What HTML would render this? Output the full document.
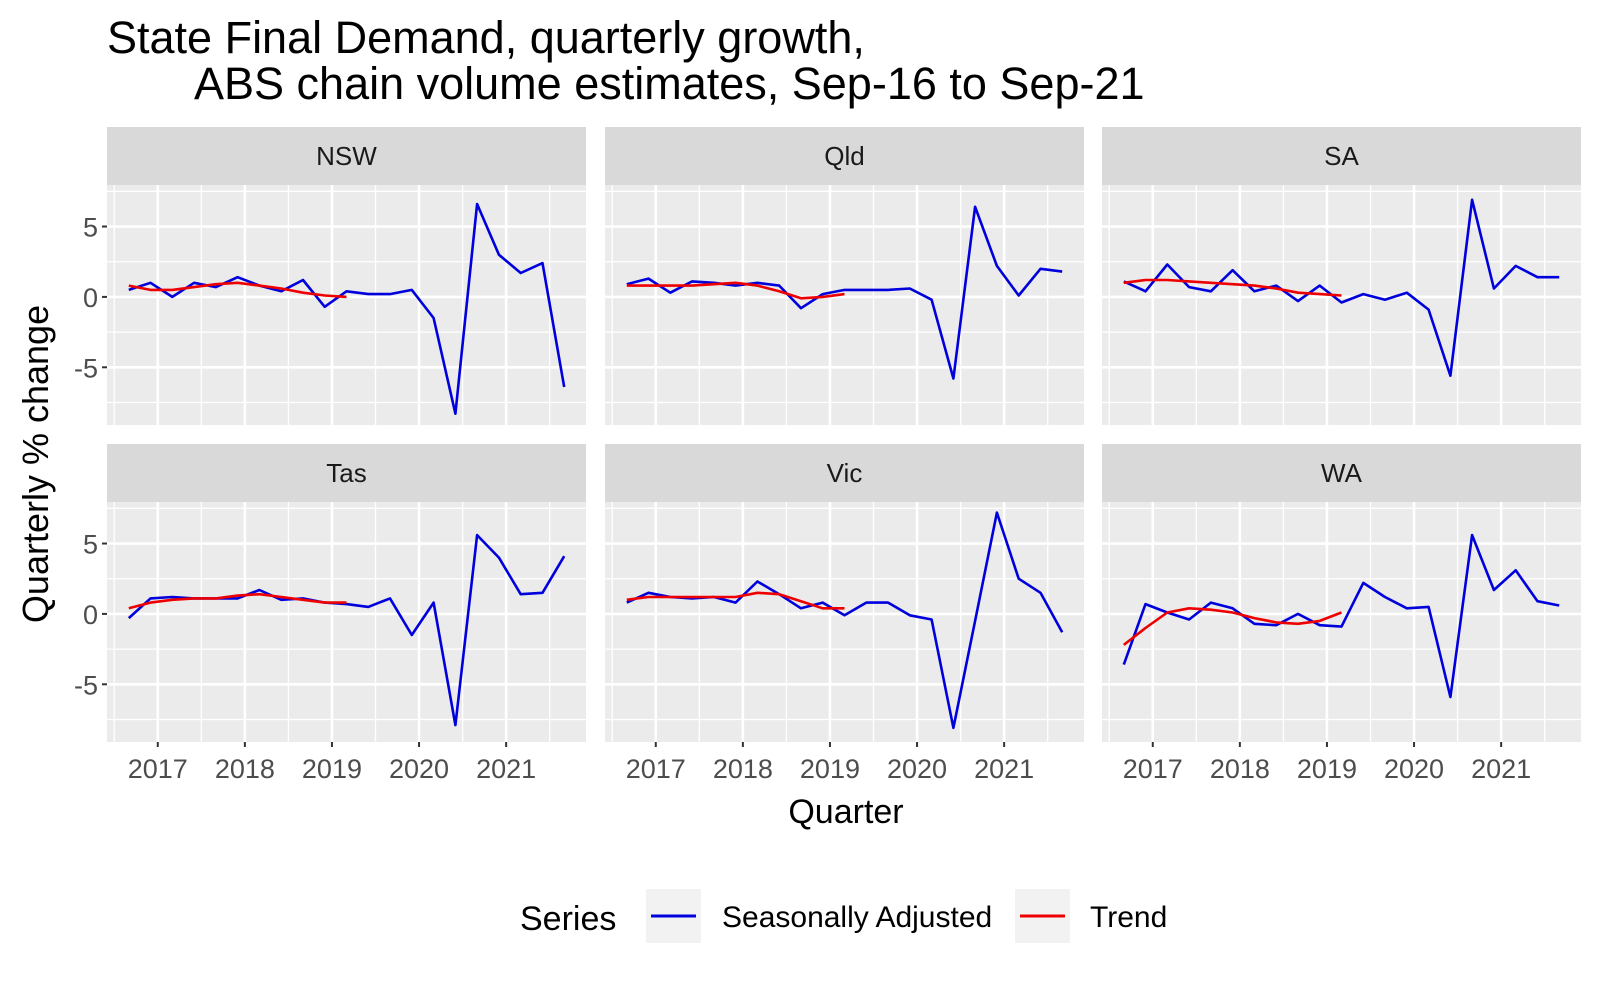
<!DOCTYPE html>
<html><head><meta charset="utf-8"><style>
html,body{margin:0;padding:0;background:#fff;}
svg{display:block;font-family:"Liberation Sans",Arial,sans-serif;}
</style></head><body>
<svg id="chart" width="1600" height="984" viewBox="0 0 1600 984">
<text x="107" y="53" font-size="45" fill="#000">State Final Demand, quarterly growth,</text>
<text x="194" y="99" font-size="45" fill="#000">ABS chain volume estimates, Sep-16 to Sep-21</text>
<text transform="translate(48,464) rotate(-90)" text-anchor="middle" font-size="36" fill="#000">Quarterly % change</text>
<text x="846" y="823" text-anchor="middle" font-size="34" fill="#000">Quarter</text>
<g id="panels"></g>
<g>
<text x="520" y="930" font-size="34" fill="#000">Series</text>
<rect x="646" y="889" width="55" height="54" fill="#f2f2f2"/>
<line x1="651" y1="916" x2="696" y2="916" stroke="#0000dd" stroke-width="3"/>
<text x="722" y="927" font-size="30" fill="#000">Seasonally Adjusted</text>
<rect x="1015" y="889" width="55" height="54" fill="#f2f2f2"/>
<line x1="1020" y1="916" x2="1065" y2="916" stroke="#ee0000" stroke-width="3"/>
<text x="1090" y="927" font-size="30" fill="#000">Trend</text>
</g>
</svg>
<script>
const states = ["NSW","Qld","SA","Tas","Vic","WA"];
const startYear = 2016.667;
const xTicks = [2017,2018,2019,2020,2021];
const yTicks = [5,0,-5];
const saNSW = [0.5,1.0,0.0,1.0,0.7,1.4,0.8,0.4,1.2,-0.7,0.4,0.2,0.2,0.5,-1.5,-8.3,6.6,3.0,1.7,2.4,-6.4];
const trNSW = [0.8,0.5,0.5,0.7,0.9,1.0,0.8,0.6,0.3,0.1,0.0];
const saQld = [0.9,1.3,0.3,1.1,1.0,0.8,1.0,0.8,-0.8,0.2,0.5,0.5,0.5,0.6,-0.2,-5.8,6.4,2.2,0.1,2.0,1.8];
const trQld = [0.8,0.8,0.8,0.8,0.9,1.0,0.8,0.4,-0.1,0.0,0.2];
const saSA = [1.1,0.4,2.3,0.7,0.4,1.9,0.4,0.8,-0.3,0.8,-0.4,0.2,-0.2,0.3,-0.9,-5.6,6.9,0.6,2.2,1.4,1.4];
const trSA = [1.0,1.2,1.2,1.1,1.0,0.9,0.8,0.6,0.3,0.2,0.1];
const saTas = [-0.3,1.1,1.2,1.1,1.1,1.1,1.7,1.0,1.1,0.8,0.7,0.5,1.1,-1.5,0.8,-7.9,5.6,4.0,1.4,1.5,4.1];
const trTas = [0.4,0.8,1.0,1.1,1.1,1.3,1.4,1.2,1.0,0.8,0.8];
const saVic = [0.8,1.5,1.2,1.1,1.2,0.8,2.3,1.4,0.4,0.8,-0.1,0.8,0.8,-0.1,-0.4,-8.1,-0.5,7.2,2.5,1.5,-1.3];
const trVic = [1.0,1.2,1.2,1.2,1.2,1.2,1.5,1.4,0.9,0.4,0.4];
const saWA = [-3.6,0.7,0.1,-0.4,0.8,0.4,-0.7,-0.8,0.0,-0.8,-0.9,2.2,1.2,0.4,0.5,-5.9,5.6,1.7,3.1,0.9,0.6];
const trWA = [-2.2,-1.0,0.1,0.4,0.3,0.1,-0.3,-0.6,-0.7,-0.5,0.1];

const saSeries = [saNSW,saQld,saSA,saTas,saVic,saWA];
const trSeries = [trNSW,trQld,trSA,trTas,trVic,trWA];

const NS="http://www.w3.org/2000/svg";
const panelX=[107,605,1102], plotTop=[185,502], PW=479, PH=240;
const XMIN=2016.417, XMAX=2021.917, YMIN=-9.1, YMAX=7.95;
function xs(px,t){return px+(t-XMIN)/(XMAX-XMIN)*PW;}
function ys(py,v){return py+(YMAX-v)/(YMAX-YMIN)*PH;}
function mk(tag,attrs,parent){const e=document.createElementNS(NS,tag);for(const k in attrs)e.setAttribute(k,attrs[k]);parent.appendChild(e);return e;}
const root=document.getElementById('panels');
states.forEach((st,i)=>{
  const col=i%3,row=Math.floor(i/3);
  const px=panelX[col],py=plotTop[row];
  const g=mk('g',{},root);
  
  
  const strip=mk('rect',{x:px,y:py-58,width:PW,height:58,fill:'#d9d9d9'},g);
  
  
  const stxt=mk('text',{x:px+PW/2,y:py-29+9,'text-anchor':'middle','font-size':26,fill:'#1a1a1a'},g);
  stxt.textContent=st;
  
  
  const bg=mk('rect',{x:px,y:py,width:PW,height:PH,fill:'#ebebeb'},g);
  
  
  [7.5,2.5,-2.5,-7.5].forEach(v=>{const l=mk('line',{x1:px,x2:px+PW,y1:ys(py,v),y2:ys(py,v),stroke:'#fff','stroke-width':1.3},g);
    });
  xTicks.concat([2016]).forEach(t=>{const m=t+0.5;if(m<XMIN||m>XMAX)return;const l=mk('line',{x1:xs(px,m),x2:xs(px,m),y1:py,y2:py+PH,stroke:'#fff','stroke-width':1.3},g);
    });
  yTicks.forEach(v=>{const l=mk('line',{x1:px,x2:px+PW,y1:ys(py,v),y2:ys(py,v),stroke:'#fff','stroke-width':2.6},g);
    });
  xTicks.forEach(t=>{const l=mk('line',{x1:xs(px,t),x2:xs(px,t),y1:py,y2:py+PH,stroke:'#fff','stroke-width':2.6},g);
    });
  if(col===0){yTicks.forEach(v=>{const y=ys(py,v);
    const tk=mk('line',{x1:px-5,x2:px,y1:y,y2:y,stroke:'#333','stroke-width':2},g);
    
    const tl=mk('text',{x:px-9,y:y+10,'text-anchor':'end','font-size':27,fill:'#4d4d4d'},g);
    tl.textContent=String(v);
    });}
  if(row===1){xTicks.forEach(t=>{const x=xs(px,t);
    const tk=mk('line',{x1:x,x2:x,y1:py+PH,y2:py+PH+5,stroke:'#333','stroke-width':2},g);
    
    const tl=mk('text',{x:x,y:py+PH+36,'text-anchor':'middle','font-size':27,fill:'#4d4d4d'},g);
    tl.textContent=String(t);
    });}
  const sa=saSeries[i].map((v,k)=>xs(px,startYear+0.25*k).toFixed(1)+','+ys(py,v).toFixed(1)).join(' ');
  const l1=mk('polyline',{points:sa,fill:'none',stroke:'#0000dd','stroke-width':2.6,'stroke-linejoin':'round'},g);
  
  
  const tr=trSeries[i].map((v,k)=>xs(px,startYear+0.25*k).toFixed(1)+','+ys(py,v).toFixed(1)).join(' ');
  const l2=mk('polyline',{points:tr,fill:'none',stroke:'#ee0000','stroke-width':2.6,'stroke-linejoin':'round'},g);
  
  
});
</script>
</body></html>
